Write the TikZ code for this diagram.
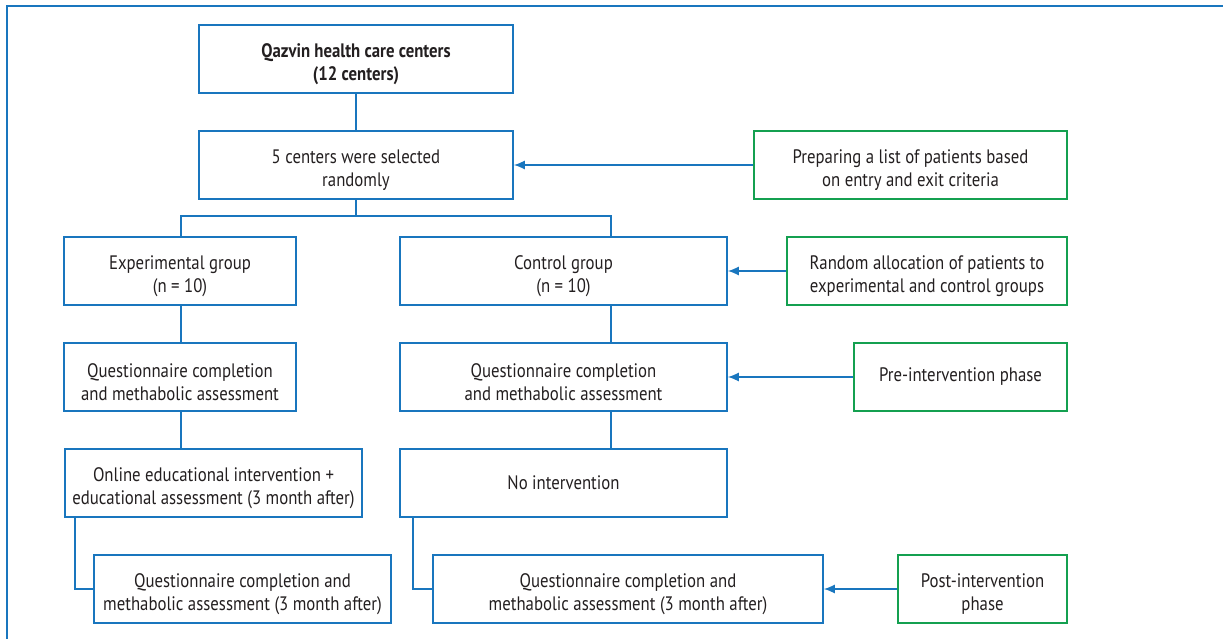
\documentclass[tikz,border=0pt]{standalone}
\usepackage{fontspec}
\setmainfont[FakeStretch=0.86]{PT Sans}
\usetikzlibrary{arrows.meta,calc}
\definecolor{bl}{RGB}{25,118,190}
\definecolor{gr}{RGB}{20,160,80}
\definecolor{tx}{RGB}{35,31,32}
\newcommand{\ts}{\rule{0pt}{24pt}}
\begin{document}
\begin{tikzpicture}[x=1pt,y=-1pt,
  box/.style={draw=bl,line width=1.6pt,minimum height=68pt,align=center,text=tx,inner sep=0pt,font=\fontsize{19.5}{23}\selectfont},
  gbox/.style={box,draw=gr},
  conn/.style={draw=bl,line width=1.5pt},
  arr/.style={conn,-{Latex[length=11pt,width=9pt]}}]
\useasboundingbox (0,0) rectangle (1223,639);
\draw[bl,line width=1.5pt] (1223,6) -- (7,6) -- (7,639);
\node[box,minimum width=314pt] (top) at (356,59) {\ts\bfseries Qazvin health care centers\\\bfseries (12 centers)};
\node[box,minimum width=314pt] (sel) at (356,165) {\ts 5 centers were selected\\randomly};
\node[box,minimum width=232pt] (exp) at (180,271) {\ts Experimental group\\(n = 10)};
\node[box,minimum width=327pt] (ctl) at (563.5,271) {\ts Control group\\(n = 10)};
\node[gbox,minimum width=313pt] (g1) at (910.5,165) {\ts Preparing a list of patients based\\on entry and exit criteria};
\node[gbox,minimum width=280pt] (g2) at (927,271) {\ts Random allocation of patients to\\experimental and control groups};
\node[box,minimum width=232pt] (eq) at (180,377) {\ts Questionnaire completion\\and methabolic assessment};
\node[box,minimum width=327pt] (cq) at (563.5,377) {\ts Questionnaire completion\\and methabolic assessment};
\node[gbox,minimum width=213pt] (g3) at (960.5,377) {Pre-intervention phase};
\node[box,minimum width=297pt] (onl) at (213.5,483) {\ts Online educational intervention +\\educational assessment (3 month after)};
\node[box,minimum width=327pt] (noi) at (563.5,483) {No intervention};
\node[box,minimum width=297pt] (ef) at (242.5,589) {\ts Questionnaire completion and\\methabolic assessment (3 month after)};
\node[box,minimum width=390pt] (cf) at (628,589) {\ts Questionnaire completion and\\methabolic assessment (3 month after)};
\node[gbox,minimum width=169pt] (g4) at (982.5,589) {\ts Post-intervention\\phase};
\coordinate (ct) at (611,0);
\coordinate (et) at (181,0);
\coordinate (ol) at (75,0);
\coordinate (nl) at (413,0);
\coordinate (split) at (356,216);
\draw[conn] (top) -- (sel);
\draw[conn] (sel.south) -- (split);
\draw[conn] (exp.north -| et) |- (split) -| (ctl.north -| ct);
\draw[conn] (exp.south -| et) -- (eq.north -| et);
\draw[conn] (eq.south -| et) -- (onl.north -| et);
\draw[conn] (ctl.south -| ct) -- (cq.north -| ct);
\draw[conn] (cq.south -| ct) -- (noi.north -| ct);
\draw[conn] (onl.south -| ol) |- (ef.west);
\draw[conn] (noi.south -| nl) |- (cf.west);
\draw[arr] (g1) -- (sel);
\draw[arr] (g2) -- (ctl);
\draw[arr] (g3) -- (cq);
\draw[arr] (g4) -- (cf);
\end{tikzpicture}
\end{document}
